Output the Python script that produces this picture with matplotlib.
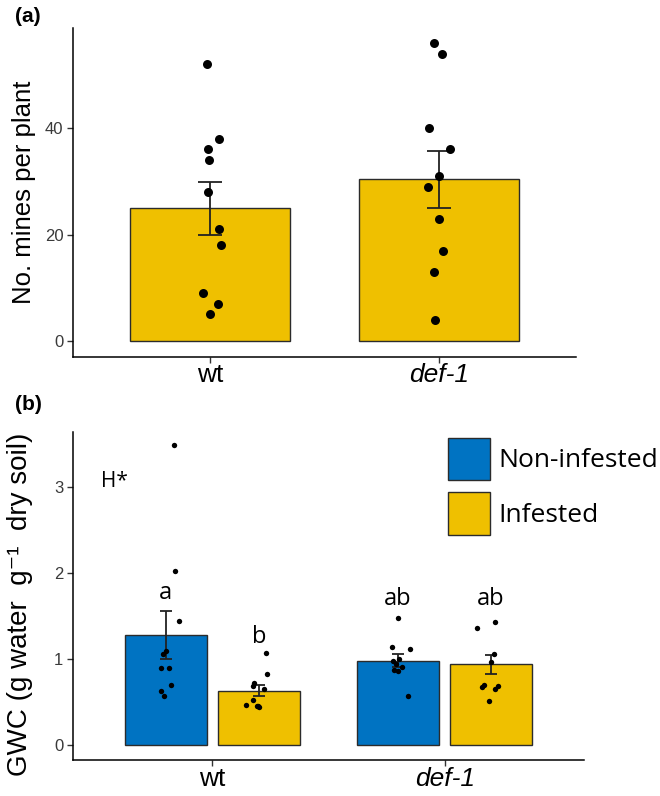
import numpy as np
import matplotlib
matplotlib.use("Agg")
import matplotlib.pyplot as plt
from matplotlib.patches import Patch

plt.rcParams['font.family'] = ['Liberation Sans', 'DejaVu Sans']

# данные, панель (a)
genotypes = ['wt', 'def-1']
mines_mean = [24.9, 30.4]
mines_se = [4.9, 5.35]
wt_mines = [52, 38, 36, 34, 28, 21, 18, 9, 7, 5]
wt_mines_jit = [-0.016, 0.040, -0.010, -0.006, -0.010, 0.040, 0.047, -0.030, 0.034, 0.000]
def_mines = [56, 54, 40, 36, 31, 29, 23, 17, 13, 4]
def_mines_jit = [-0.019, 0.012, -0.045, 0.049, 0.003, -0.049, 0.000, 0.017, -0.022, -0.016]

# данные, панель (b)
treatments = ['Non-infested', 'Infested']
gwc_mean_ni = [1.28, 0.984]
gwc_se_ni = [0.28, 0.075]
gwc_mean_inf = [0.635, 0.942]
gwc_se_inf = [0.063, 0.108]
wt_ni = [3.49, 2.03, 1.44, 1.10, 1.06, 0.90, 0.90, 0.70, 0.63, 0.57]
wt_ni_jit = [0.033, 0.041, 0.057, -0.001, -0.014, -0.019, 0.015, 0.021, -0.021, -0.009]
wt_inf = [1.07, 0.83, 0.72, 0.69, 0.65, 0.53, 0.47, 0.46, 0.45, 0.46]
wt_inf_jit = [0.030, 0.034, -0.021, -0.026, 0.024, -0.025, -0.056, -0.009, 0.001, -0.004]
def_ni = [1.48, 1.14, 1.12, 0.98, 1.00, 0.91, 0.875, 0.86, 0.945, 0.57]
def_ni_jit = [0.000, -0.026, 0.052, -0.024, 0.005, 0.015, -0.019, -0.002, -0.009, 0.044]
def_inf = [1.43, 1.36, 1.065, 0.97, 0.675, 0.70, 0.66, 0.685, 0.51]
def_inf_jit = [0.017, -0.060, 0.013, 0.000, -0.039, -0.032, 0.017, 0.030, -0.010]
letters_ni = ['a', 'ab']
letters_inf = ['b', 'ab']
letters_ni_y = [1.77, 1.70]
letters_inf_y = [1.26, 1.70]

blue = '#0073C2'
yellow = '#EFC000'
edge = '#2b2b2b'
tick_col = '#3a3a3a'
ann_font = ['Open Sans', 'DejaVu Sans']

fig = plt.figure(figsize=(6.6, 7.96), dpi=100)
ax1 = fig.add_axes([0.1106, 0.5515, 0.7621, 0.4133])
ax2 = fig.add_axes([0.1106, 0.0452, 0.7742, 0.4125])


def style_axis(ax, xpad):
    for s in ['top', 'right']:
        ax.spines[s].set_visible(False)
    for s in ['left', 'bottom']:
        ax.spines[s].set_linewidth(1.1)
        ax.spines[s].set_color('black')
    ax.tick_params(axis='both', length=4, width=1.0, color='#333333')
    ax.tick_params(axis='y', labelsize=12, labelcolor=tick_col, pad=3)
    ax.tick_params(axis='x', labelsize=19, labelcolor='black', pad=xpad)
    ax.set_xticks(range(len(genotypes)))
    ax.set_xticklabels(genotypes)
    ax.get_xticklabels()[1].set_style('italic')


# панель (a)
x = np.arange(len(genotypes))
ax1.bar(x, mines_mean, width=0.7, color=yellow, edgecolor=edge, linewidth=1.0, zorder=2)
ax1.errorbar(x, mines_mean, yerr=mines_se, fmt='none', ecolor='#222222',
             elinewidth=1.3, capsize=8.3, capthick=1.3, zorder=3)
ax1.scatter(x[0] + np.array(wt_mines_jit), wt_mines, s=42, color='black', zorder=4, linewidths=0)
ax1.scatter(x[1] + np.array(def_mines_jit), def_mines, s=42, color='black', zorder=4, linewidths=0)
ax1.set_xlim(-0.6, 1.6)
ax1.set_ylim(-3.0, 58.8)
ax1.set_yticks([0, 20, 40])
ax1.set_ylabel('No. mines per plant', fontsize=18.5, labelpad=6)
style_axis(ax1, 0)

# панель (b)
off = 0.2
w = 0.355
ax2.bar(x - off, gwc_mean_ni, width=w, color=blue, edgecolor=edge, linewidth=1.0, zorder=2)
ax2.bar(x + off, gwc_mean_inf, width=w, color=yellow, edgecolor=edge, linewidth=1.0, zorder=2)
ax2.errorbar(x - off, gwc_mean_ni, yerr=gwc_se_ni, fmt='none', ecolor='#222222',
             elinewidth=1.3, capsize=4.3, capthick=1.3, zorder=3)
ax2.errorbar(x + off, gwc_mean_inf, yerr=gwc_se_inf, fmt='none', ecolor='#222222',
             elinewidth=1.3, capsize=4.3, capthick=1.3, zorder=3)
groups = [(x[0] - off, wt_ni, wt_ni_jit), (x[0] + off, wt_inf, wt_inf_jit),
          (x[1] - off, def_ni, def_ni_jit), (x[1] + off, def_inf, def_inf_jit)]
for cx, vals, jit in groups:
    ax2.scatter(cx + np.array(jit), vals, s=15, color='black', zorder=4, linewidths=0)
for i in range(len(genotypes)):
    ax2.text(x[i] - off, letters_ni_y[i], letters_ni[i], ha='center', va='center',
             fontsize=17, family=ann_font)
    ax2.text(x[i] + off, letters_inf_y[i], letters_inf[i], ha='center', va='center',
             fontsize=17, family=ann_font)
ax2.text(-0.48, 3.07, 'H*', ha='left', va='center', fontsize=15, family=ann_font)
ax2.set_xlim(-0.6, 1.6)
ax2.set_ylim(-0.171, 3.647)
ax2.set_yticks([0, 1, 2, 3])
ax2.set_ylabel('GWC (g water  g\u207b\u00b9  dry soil)', fontsize=20)
ax2.yaxis.set_label_coords(-0.078, 0.475)
style_axis(ax2, 1)

handles = [Patch(facecolor=blue, edgecolor=edge, linewidth=1.0),
           Patch(facecolor=yellow, edgecolor=edge, linewidth=1.0)]
leg = ax2.legend(handles, treatments, loc='upper left', bbox_to_anchor=(0.734, 0.981),
                 frameon=False, borderpad=0, borderaxespad=0, handlelength=1.6,
                 handleheight=2.1, handletextpad=0.3, labelspacing=0.45,
                 prop={'family': ann_font, 'size': 19})

fig.text(15 / 660, 1 - 17 / 796, '(a)', fontsize=15, fontweight='bold', ha='left', va='center')
fig.text(15 / 660, 1 - 405 / 796, '(b)', fontsize=15, fontweight='bold', ha='left', va='center')

fig.savefig('out.png', dpi=100)
